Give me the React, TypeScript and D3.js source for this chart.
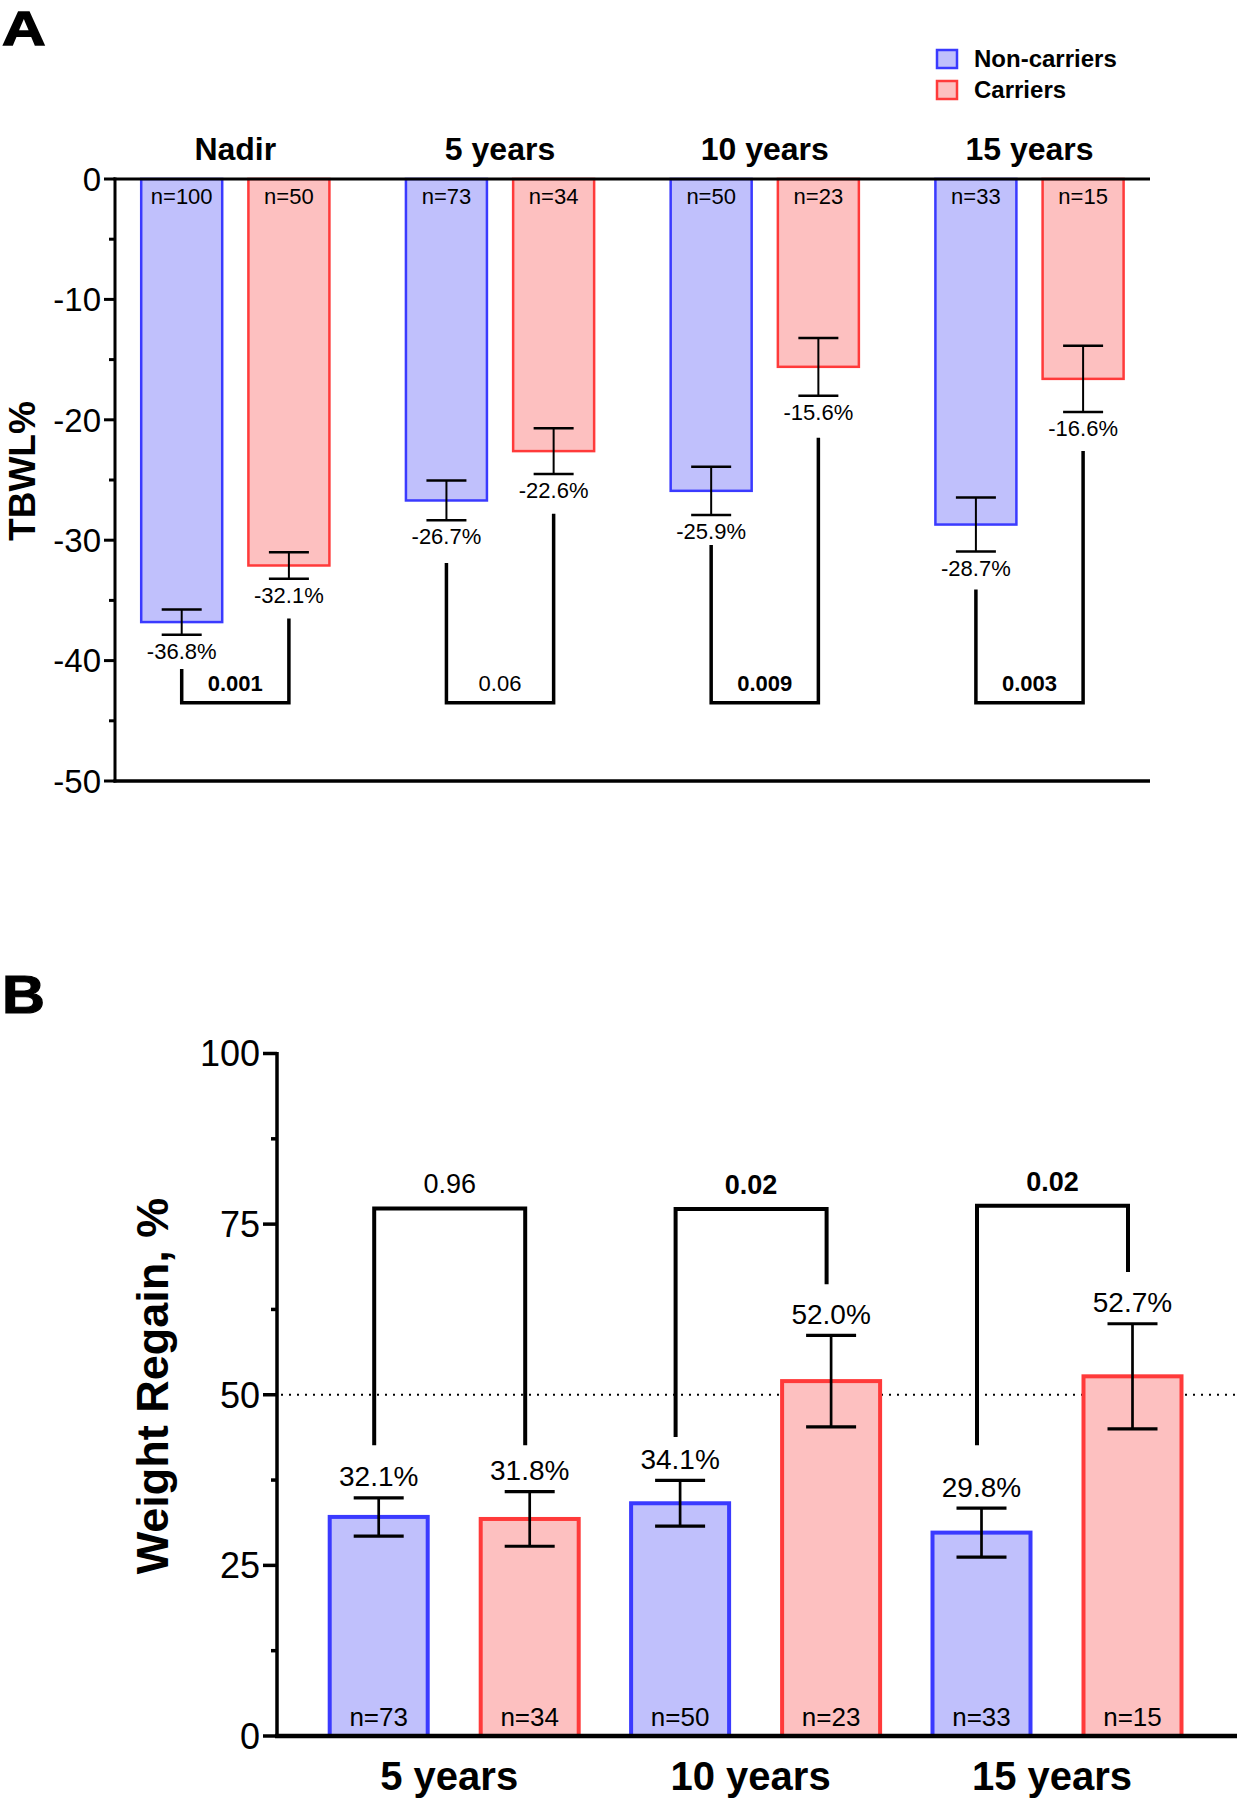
import React from "react";
import * as d3 from "d3";

// ---------- Panel A data ----------
const groupsA = ["Nadir", "5 years", "10 years", "15 years"];
const nonCarriersA = [-36.8, -26.7, -25.9, -28.7];
const carriersA = [-32.1, -22.6, -15.6, -16.6];
const nonCarriersErrA = [1.05, 1.65, 2.0, 2.24];
const carriersErrA = [1.1, 1.9, 2.4, 2.76];
const nNonCarriersA = [100, 73, 50, 33];
const nCarriersA = [50, 34, 23, 15];
const pValuesA = ["0.001", "0.06", "0.009", "0.003"];
const pBoldA = [true, false, true, true];
const bracketBaseA = [-43.5, -43.5, -43.5, -43.5];
const bracketLegNonA = [-40.7, -31.9, -30.4, -34.1];
const bracketLegCarA = [-36.5, -27.8, -21.5, -22.6];
const yTicksA = [0, -10, -20, -30, -40, -50];
const yMinorA = [-5, -15, -25, -35, -45];

// ---------- Panel B data ----------
const groupsB = ["5 years", "10 years", "15 years"];
const nonCarriersB = [32.1, 34.1, 29.8];
const carriersB = [31.8, 52.0, 52.7];
const nonCarriersErrB = [2.8, 3.35, 3.6];
const carriersErrB = [4.0, 6.7, 7.7];
const nNonCarriersB = [73, 50, 33];
const nCarriersB = [34, 23, 15];
const pValuesB = ["0.96", "0.02", "0.02"];
const pBoldB = [false, true, true];
const bracketTopB = [77.3, 77.2, 77.7];
const bracketLegNonB = [42.6, 43.8, 42.6];
const bracketLegCarB = [42.6, 66.2, 68.0];
const yTicksB = [0, 25, 50, 75, 100];
const yMinorB = [12.5, 37.5, 62.5, 87.5];
const refLineB = 50;

const legendLabels = ["Non-carriers", "Carriers"];

const BLUE_STROKE = "#3a3aff";
const BLUE_FILL = "#c0c0fc";
const RED_STROKE = "#ff3a3a";
const RED_FILL = "#fdc0c0";
const FONT = "'Liberation Sans', Arial, Helvetica, sans-serif";

export default function App() {
  // ---- scales A ----
  const xA = d3.scalePoint<string>().domain(groupsA).range([235.3, 1029.5]);
  const yA = d3.scaleLinear().domain([0, -50]).range([179, 781]);
  const offA = 53.6;
  const bwA = 81;
  const axisLeftA = 115;
  const axisRightA = 1150;

  // ---- scales B ----
  const xB = d3.scalePoint<string>().domain(groupsB).range([454.2, 1057]);
  const yB = d3.scaleLinear().domain([0, 100]).range([1736, 1053.5]);
  const offB = 75.5;
  const bwB = 98;
  const axisLeftB = 277;
  const axisRightB = 1237;

  const seriesA = [
    { vals: nonCarriersA, errs: nonCarriersErrA, ns: nNonCarriersA, off: -offA, stroke: BLUE_STROKE, fill: BLUE_FILL },
    { vals: carriersA, errs: carriersErrA, ns: nCarriersA, off: offA, stroke: RED_STROKE, fill: RED_FILL },
  ];
  const seriesB = [
    { vals: nonCarriersB, errs: nonCarriersErrB, ns: nNonCarriersB, off: -offB, stroke: BLUE_STROKE, fill: BLUE_FILL },
    { vals: carriersB, errs: carriersErrB, ns: nCarriersB, off: offB, stroke: RED_STROKE, fill: RED_FILL },
  ];

  return (
    <svg
      width={1237}
      height={1800}
      style={{ position: "absolute", left: 0, top: 0, background: "#fff" }}
      fontFamily={FONT}
    >
      <rect x={0} y={0} width={1237} height={1800} fill="#fff" />

      {/* ================= PANEL A ================= */}
      <text transform="translate(2,45) scale(1.26,1)" fontSize={48} fontWeight="bold" stroke="#000" strokeWidth={1.3}>A</text>

      {/* legend */}
      {legendLabels.map((lab, i) => (
        <g key={lab}>
          <rect
            x={937}
            y={50 + i * 31}
            width={20}
            height={18}
            fill={i === 0 ? BLUE_FILL : RED_FILL}
            stroke={i === 0 ? BLUE_STROKE : RED_STROKE}
            strokeWidth={2.5}
          />
          <text x={974} y={67 + i * 31} fontSize={24} fontWeight="bold">{lab}</text>
        </g>
      ))}

      {/* group titles */}
      {groupsA.map((g) => (
        <text key={g} x={xA(g)} y={160} fontSize={32} fontWeight="bold" textAnchor="middle">{g}</text>
      ))}

      {/* bars A */}
      {seriesA.map((s, si) =>
        groupsA.map((g, i) => {
          const cx = (xA(g) as number) + s.off;
          const v = s.vals[i];
          const e = s.errs[i];
          const yTop = yA(0);
          const yBot = yA(v);
          const eTop = yA(v + e);
          const eBot = yA(v - e);
          return (
            <g key={`a-${si}-${i}`}>
              <rect x={cx - bwA / 2} y={yTop} width={bwA} height={yBot - yTop} fill={s.fill} stroke={s.stroke} strokeWidth={2.5} />
              <line x1={cx} x2={cx} y1={eTop} y2={eBot} stroke="#000" strokeWidth={2} />
              <line x1={cx - 20} x2={cx + 20} y1={eTop} y2={eTop} stroke="#000" strokeWidth={2.5} />
              <line x1={cx - 20} x2={cx + 20} y1={eBot} y2={eBot} stroke="#000" strokeWidth={2.5} />
              <text x={cx} y={eBot + 24} fontSize={22} textAnchor="middle">{`${v.toFixed(1)}%`}</text>
              <text x={cx} y={yA(0) + 25} fontSize={22} textAnchor="middle">{`n=${s.ns[i]}`}</text>
            </g>
          );
        })
      )}

      {/* brackets A */}
      {groupsA.map((g, i) => {
        const x1 = (xA(g) as number) - offA;
        const x2 = (xA(g) as number) + offA;
        const yb = yA(bracketBaseA[i]);
        const p = d3.path();
        p.moveTo(x1, yA(bracketLegNonA[i]));
        p.lineTo(x1, yb);
        p.lineTo(x2, yb);
        p.lineTo(x2, yA(bracketLegCarA[i]));
        return (
          <g key={`ba-${i}`}>
            <path d={p.toString()} fill="none" stroke="#000" strokeWidth={3.5} strokeLinejoin="miter" />
            <text x={xA(g)} y={yb - 12} fontSize={22} textAnchor="middle" fontWeight={pBoldA[i] ? "bold" : "normal"}>{pValuesA[i]}</text>
          </g>
        );
      })}

      {/* axes A */}
      <line x1={axisLeftA - 1.5} x2={axisRightA} y1={yA(0)} y2={yA(0)} stroke="#000" strokeWidth={3} />
      <line x1={axisLeftA - 1.5} x2={axisRightA} y1={yA(-50)} y2={yA(-50)} stroke="#000" strokeWidth={3.5} />
      <line x1={axisLeftA} x2={axisLeftA} y1={yA(0) - 1.5} y2={yA(-50) + 1.5} stroke="#000" strokeWidth={3} />
      {yTicksA.map((t) => (
        <g key={`ta-${t}`}>
          <line x1={axisLeftA - 11} x2={axisLeftA} y1={yA(t)} y2={yA(t)} stroke="#000" strokeWidth={3} />
          <text x={axisLeftA - 14} y={yA(t)} dy="0.36em" fontSize={33} textAnchor="end">{t}</text>
        </g>
      ))}
      {yMinorA.map((t) => (
        <line key={`ma-${t}`} x1={axisLeftA - 6} x2={axisLeftA} y1={yA(t)} y2={yA(t)} stroke="#000" strokeWidth={3} />
      ))}
      <text
        transform={`translate(35, ${(yA(-20) + yA(-30)) / 2 - 9}) rotate(-90)`}
        fontSize={37}
        fontWeight="bold"
        textAnchor="middle"
      >
        TBWL%
      </text>

      {/* ================= PANEL B ================= */}
      <text transform="translate(2,1013) scale(1.1,1)" fontSize={54} fontWeight="bold" stroke="#000" strokeWidth={1.2}>B</text>

      {/* reference line */}
      <line x1={axisLeftB + 4} x2={axisRightB} y1={yB(refLineB)} y2={yB(refLineB)} stroke="#000" strokeWidth={2} strokeDasharray="2,6" />

      {/* bars B */}
      {seriesB.map((s, si) =>
        groupsB.map((g, i) => {
          const cx = (xB(g) as number) + s.off;
          const v = s.vals[i];
          const e = s.errs[i];
          const yTop = yB(v);
          const yBot = yB(0);
          const eTop = yB(v + e);
          const eBot = yB(v - e);
          return (
            <g key={`b-${si}-${i}`}>
              <rect x={cx - bwB / 2} y={yTop} width={bwB} height={yBot - yTop} fill={s.fill} stroke={s.stroke} strokeWidth={4} />
              <line x1={cx} x2={cx} y1={eTop} y2={eBot} stroke="#000" strokeWidth={2.7} />
              <line x1={cx - 25} x2={cx + 25} y1={eTop} y2={eTop} stroke="#000" strokeWidth={3.2} />
              <line x1={cx - 25} x2={cx + 25} y1={eBot} y2={eBot} stroke="#000" strokeWidth={3.2} />
              <text x={cx} y={eTop - 11.5} fontSize={28} textAnchor="middle">{`${v.toFixed(1)}%`}</text>
              <text x={cx} y={yB(0) - 10} fontSize={26} textAnchor="middle">{`n=${s.ns[i]}`}</text>
            </g>
          );
        })
      )}

      {/* brackets B */}
      {groupsB.map((g, i) => {
        const x1 = (xB(g) as number) - offB - 4.5;
        const x2 = (xB(g) as number) + offB - 4.5;
        const yt = yB(bracketTopB[i]);
        const p = d3.path();
        p.moveTo(x1, yB(bracketLegNonB[i]));
        p.lineTo(x1, yt);
        p.lineTo(x2, yt);
        p.lineTo(x2, yB(bracketLegCarB[i]));
        return (
          <g key={`bb-${i}`}>
            <path d={p.toString()} fill="none" stroke="#000" strokeWidth={4} strokeLinejoin="miter" />
            <text x={(x1 + x2) / 2} y={yt - 15} fontSize={27} textAnchor="middle" fontWeight={pBoldB[i] ? "bold" : "normal"}>{pValuesB[i]}</text>
          </g>
        );
      })}

      {/* axes B */}
      <line x1={axisLeftB - 2} x2={axisRightB} y1={yB(0)} y2={yB(0)} stroke="#000" strokeWidth={4.5} />
      <line x1={axisLeftB} x2={axisLeftB} y1={yB(100) - 1.5} y2={yB(0)} stroke="#000" strokeWidth={3.5} />
      {yTicksB.map((t) => (
        <g key={`tb-${t}`}>
          <line x1={axisLeftB - 14} x2={axisLeftB} y1={yB(t)} y2={yB(t)} stroke="#000" strokeWidth={3.5} />
          <text x={axisLeftB - 17} y={yB(t)} dy="0.36em" fontSize={36} textAnchor="end">{t}</text>
        </g>
      ))}
      {yMinorB.map((t) => (
        <line key={`mb-${t}`} x1={axisLeftB - 6} x2={axisLeftB} y1={yB(t)} y2={yB(t)} stroke="#000" strokeWidth={3.5} />
      ))}
      {groupsB.map((g) => (
        <text key={`gb-${g}`} x={(xB(g) as number) - 5} y={1790} fontSize={40} fontWeight="bold" textAnchor="middle">{g}</text>
      ))}
      <text
        transform={`translate(168, 1386) rotate(-90)`}
        fontSize={45}
        fontWeight="bold"
        textAnchor="middle"
      >
        Weight Regain, %
      </text>
    </svg>
  );
}
